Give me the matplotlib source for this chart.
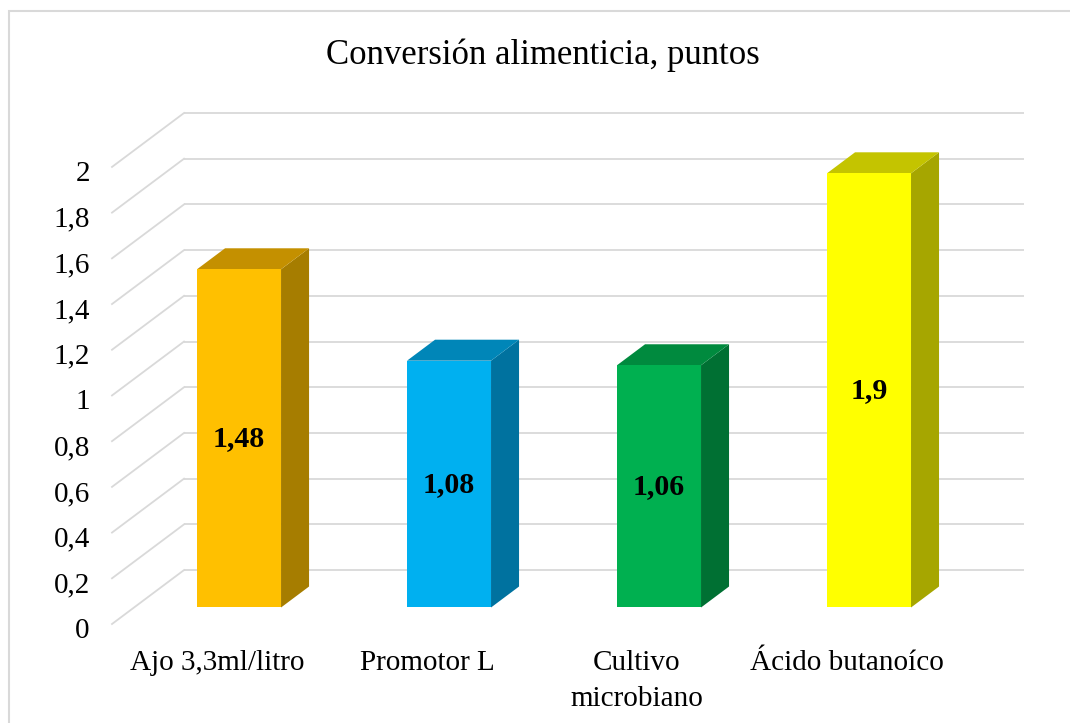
import numpy as np
import matplotlib
matplotlib.use("Agg")
import matplotlib.pyplot as plt
import matplotlib.transforms as mtransforms
from matplotlib.patches import Polygon, Rectangle

plt.rcParams["font.family"] = ["Liberation Serif", "DejaVu Serif"]

# data
categories = ["Ajo 3,3ml/litro", "Promotor L", "Cultivo\nmicrobiano", "Ácido butanoíco"]
values = [1.48, 1.08, 1.06, 1.9]
value_labels = ["1,48", "1,08", "1,06", "1,9"]
yticks = [0, 0.2, 0.4, 0.6, 0.8, 1.0, 1.2, 1.4, 1.6, 1.8, 2.0]
ytick_labels = ["0", "0,2", "0,4", "0,6", "0,8", "1", "1,2", "1,4", "1,6", "1,8", "2"]
title = "Conversión alimenticia, puntos"

# colours: front, top, side
front_cols = ["#FFC000", "#00B0F0", "#00B050", "#FFFF00"]
top_cols = ["#C49000", "#0086B8", "#008A3E", "#C4C400"]
side_cols = ["#A67D00", "#00729F", "#007033", "#A6A600"]
grid_col = "#D9D9D9"

# oblique 3d geometry (x in category slots, y in value units)
DX, DY = 0.343, 0.236     # full floor depth
F0, F1 = 0.306, 0.695     # bar front / back as fraction of depth
BW = 0.4                  # bar width
YMAX = 2.0

W, H = 1070, 723
fig = plt.figure(figsize=(W / 100, H / 100), dpi=100)
ax = fig.add_axes([112 / W, (H - 624) / H, (1024 - 112) / W, (624 - 113) / H])
ax.set_xlim(-0.5, len(values) - 0.5 + DX)
ax.set_ylim(0, YMAX + DY)
for s in ax.spines.values():
    s.set_visible(False)

# back wall + floor-side grid lines
x0, x1 = -0.5, len(values) - 0.5
for v in yticks:
    ax.plot([x0 + DX, x1 + DX], [v + DY, v + DY], color=grid_col, lw=1.3, zorder=1,
            solid_capstyle="butt", clip_on=False)
    ax.plot([x0, x0 + DX], [v, v + DY], color=grid_col, lw=1.3, zorder=1, clip_on=False)

# bars
for i, v in enumerate(values):
    fx = i - BW / 2 + F0 * DX
    fy = F0 * DY
    bx = i - BW / 2 + F1 * DX
    by = F1 * DY
    front = [(fx, fy), (fx + BW, fy), (fx + BW, fy + v), (fx, fy + v)]
    side = [(fx + BW, fy), (bx + BW, by), (bx + BW, by + v), (fx + BW, fy + v)]
    top = [(fx, fy + v), (fx + BW, fy + v), (bx + BW, by + v), (bx, by + v)]
    ax.add_patch(Polygon(side, closed=True, facecolor=side_cols[i], edgecolor="none", zorder=3))
    ax.add_patch(Polygon(top, closed=True, facecolor=top_cols[i], edgecolor="none", zorder=3))
    ax.add_patch(Polygon(front, closed=True, facecolor=front_cols[i], edgecolor="none", zorder=4))
    ax.text(fx + BW / 2, fy + v / 2, value_labels[i], ha="center", va="center",
            fontsize=21.5, fontweight="bold", color="black", zorder=5)

ax.set_yticks(yticks)
ax.set_yticklabels(ytick_labels, fontsize=21)
ax.tick_params(axis="y", length=0, pad=16)
shift = mtransforms.ScaledTranslation(0, -4 / 100, fig.dpi_scale_trans)
for lab in ax.get_yticklabels():
    lab.set_transform(lab.get_transform() + shift)
ax.set_xticks(range(len(categories)))
ax.set_xticklabels(categories, fontsize=21, linespacing=1.5)
ax.tick_params(axis="x", length=0, pad=19)

fig.text(543 / W, 1 - 55 / H, title, ha="center", va="center", fontsize=25)

# outer chart frame
fig.add_artist(Rectangle((9 / W, -0.1), 1.2, 1 - 11 / H + 0.1, transform=fig.transFigure,
                         facecolor="none", edgecolor=grid_col, lw=1.5))

fig.savefig("out.png", dpi=100)
